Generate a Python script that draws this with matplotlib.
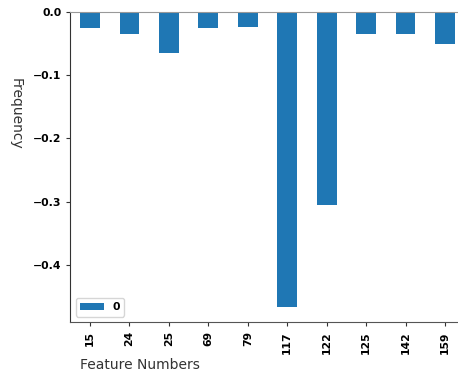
import matplotlib
matplotlib.use("Agg")
import matplotlib.pyplot as plt
import pandas as pd

# feature ids and their (negative) frequency scores
features = [15, 24, 25, 69, 79, 117, 122, 125, 142, 159]
scores = [-0.026, -0.035, -0.065, -0.026, -0.024, -0.466, -0.305, -0.035, -0.036, -0.051]

df = pd.DataFrame({0: scores}, index=features)

fig = plt.figure(figsize=(4.58, 3.78), dpi=100)
ax = fig.add_axes([70.3 / 458, 1 - 322 / 378, 394.4 / 458, (322 - 11.7) / 378])
df.plot.bar(ax=ax, color="#1f77b4", width=0.5)

ax.set_ylim(-0.49, 0.0)
ax.set_yticks([0.0, -0.1, -0.2, -0.3, -0.4])
ax.set_xlabel("")
ax.set_ylabel("")
for lab in ax.get_xticklabels() + ax.get_yticklabels():
    lab.set_fontweight("bold")
    lab.set_fontsize(7.8)
ax.tick_params(axis="both", length=3, width=0.8, color="#333333")

ax.spines["right"].set_visible(False)
ax.spines["top"].set_color("#999999")
ax.spines["left"].set_color("#333333")
ax.spines["bottom"].set_color("#555555")

leg = ax.legend(loc="lower left", fontsize=7.8, handlelength=2.2)
for t in leg.get_texts():
    t.set_fontweight("bold")

fig.text(0.035, 0.70, "Frequency", rotation=270, fontsize=10, color="#333333",
         ha="center", va="center")
fig.text(0.305, 0.035, "Feature Numbers", fontsize=10, color="#333333",
         ha="center", va="center")

fig.savefig("out.png", dpi=100)
